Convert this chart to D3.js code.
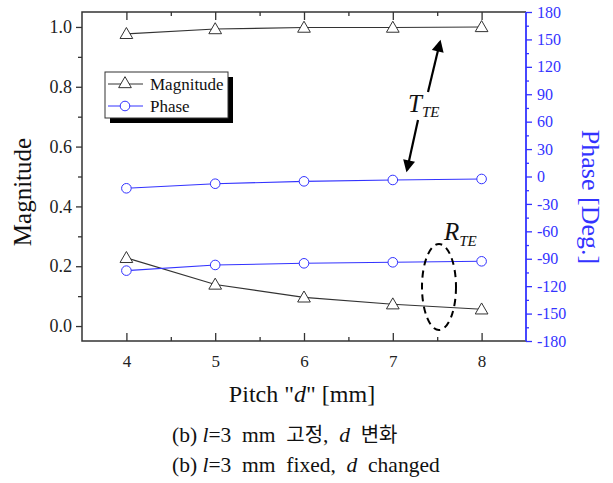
<!DOCTYPE html>
<html>
<head>
<meta charset="utf-8">
<script src="https://cdn.jsdelivr.net/npm/d3@7"></script>
<style>
  body { margin: 0; background: #fff; }
  svg { display: block; font-family: "Liberation Serif", "Times New Roman", serif; }
</style>
</head>
<body>
<svg id="chart"></svg>
<script>
// Magnitude / phase vs pitch d (l = 3 mm fixed)

const pitch = [4, 5, 6, 7, 8];
const magT = [0.977, 0.993, 0.998, 0.998, 1.0];
const magR = [0.228, 0.139, 0.096, 0.073, 0.056];
const phaseT = [-12.9, -7.9, -5.3, -3.8, -2.7];
const phaseR = [-103, -96.8, -95, -93.9, -92.8];

const magTicks = [0, 0.2, 0.4, 0.6, 0.8, 1.0];
const phaseTicks = d3.range(-180, 181, 30);

const width = 613, height = 483;
const pL = 82, pR = 526, pT = 12, pB = 341;
const blue = "#3333ff";
const serif = "Liberation Serif, Times New Roman, serif";

const svg = d3.select("#chart").attr("width", width).attr("height", height)
    .attr("font-family", serif);

const x = d3.scaleLinear().domain([3.5, 8.5]).range([pL, pR]);
const yMag = d3.scaleLinear().domain([-0.05, 1.05]).range([pB, pT]);
const yPh = d3.scaleLinear().domain([-180, 180]).range([pB, pT]);

// frame (top + left + bottom dark, right blue)
svg.append("path")
    .attr("d", `M${pR},${pT}H${pL}V${pB}H${pR}`)
    .attr("fill", "none").attr("stroke", "#333").attr("stroke-width", 1.5);

// bottom axis, ticks pointing in
svg.append("g").attr("class", "xax").attr("transform", `translate(0,${pB})`)
    .call(d3.axisBottom(x).tickValues(pitch).tickSizeInner(-8).tickSizeOuter(0).tickPadding(14).tickFormat(d3.format("d")));
svg.append("g").attr("transform", `translate(0,${pB})`)
    .call(d3.axisBottom(x).tickValues(d3.range(4.5, 8.5, 1)).tickSizeInner(-4).tickSizeOuter(0).tickFormat(""));
// top mirror ticks
svg.append("g").attr("transform", `translate(0,${pT})`)
    .call(d3.axisTop(x).tickValues(pitch).tickSizeInner(-8).tickSizeOuter(0).tickFormat(""));
svg.append("g").attr("transform", `translate(0,${pT})`)
    .call(d3.axisTop(x).tickValues(d3.range(4.5, 8.5, 1)).tickSizeInner(-4).tickSizeOuter(0).tickFormat(""));

// left axis
svg.append("g").attr("class", "lax").attr("transform", `translate(${pL},0)`)
    .call(d3.axisLeft(yMag).tickValues(magTicks).tickSize(6).tickPadding(4).tickFormat(d3.format(".1f")));
svg.append("g").attr("transform", `translate(${pL},0)`)
    .call(d3.axisLeft(yMag).tickValues([0.1, 0.3, 0.5, 0.7, 0.9]).tickSize(4).tickFormat(""));

// right axis, blue (plain hyphen for minus, like the original)
svg.append("g").attr("class", "blue").attr("transform", `translate(${pR},0)`)
    .call(d3.axisRight(yPh).tickValues(phaseTicks).tickSize(6).tickPadding(5).tickFormat(d => String(d)));
svg.append("g").attr("class", "blue").attr("transform", `translate(${pR},0)`)
    .call(d3.axisRight(yPh).tickValues(d3.range(-165, 180, 30)).tickSize(3).tickFormat(""));

svg.selectAll(".domain").remove();
svg.selectAll(".tick line").attr("stroke", "#333").attr("stroke-width", 1.3);
svg.selectAll(".tick text").attr("font-family", serif).attr("font-size", 16).attr("fill", "#222");
svg.selectAll(".lax .tick text").attr("font-size", 18);
svg.selectAll(".xax .tick text").attr("font-size", 17);
svg.selectAll(".blue .tick line").attr("stroke", blue);
svg.selectAll(".blue .tick text").attr("fill", blue);
svg.append("line").attr("x1", pR).attr("x2", pR).attr("y1", pT).attr("y2", pB)
    .attr("stroke", blue).attr("stroke-width", 1.8);

// series
const tri = d3.symbol().type(d3.symbolTriangle).size(70);

function drawSeries(vals, yScale, color, marker) {
    const pts = pitch.map((p, i) => [x(p), yScale(vals[i])]);
    svg.append("path").datum(pts)
        .attr("d", d3.line())
        .attr("fill", "none").attr("stroke", color).attr("stroke-width", 1.1);
    pts.forEach(p => {
        if (marker === "tri") {
            svg.append("path").attr("d", tri)
                .attr("transform", `translate(${p[0]},${p[1] + 1})`)
                .attr("fill", "#fff").attr("stroke", color).attr("stroke-width", 1);
        } else {
            svg.append("circle").attr("cx", p[0]).attr("cy", p[1]).attr("r", 4.8)
                .attr("fill", "#fff").attr("stroke", color).attr("stroke-width", 1);
        }
    });
}
drawSeries(magT, yMag, "#333", "tri");
drawSeries(magR, yMag, "#333", "tri");
drawSeries(phaseT, yPh, blue, "circ");
drawSeries(phaseR, yPh, blue, "circ");

// legend
const lg = svg.append("g");
lg.append("rect").attr("x", 110).attr("y", 77).attr("width", 123).attr("height", 46).attr("fill", "#000");
lg.append("rect").attr("x", 105).attr("y", 72).attr("width", 123).attr("height", 46)
    .attr("fill", "#fff").attr("stroke", "#333").attr("stroke-width", 1);
[["Magnitude", "#333", "tri", 84], ["Phase", blue, "circ", 106]].forEach(([name, c, m, yy]) => {
    lg.append("line").attr("x1", 108).attr("x2", 143).attr("y1", yy).attr("y2", yy).attr("stroke", c);
    if (m === "tri") {
        lg.append("path").attr("d", tri).attr("transform", `translate(125,${yy})`)
            .attr("fill", "#fff").attr("stroke", c);
    } else {
        lg.append("circle").attr("cx", 125).attr("cy", yy).attr("r", 4.8).attr("fill", "#fff").attr("stroke", c);
    }
    lg.append("text").attr("x", 150).attr("y", yy + 6).attr("font-size", 17).attr("fill", "#111").text(name);
});

// annotations
svg.append("defs").append("marker").attr("id", "ah")
    .attr("viewBox", "0 0 10 10").attr("refX", 8).attr("refY", 5)
    .attr("markerWidth", 6).attr("markerHeight", 5.5).attr("orient", "auto")
    .append("path").attr("d", "M0,0L10,5L0,10z").attr("fill", "#000");
svg.append("line").attr("x1", 428).attr("y1", 92).attr("x2", 440).attr("y2", 42)
    .attr("stroke", "#000").attr("stroke-width", 2.2).attr("marker-end", "url(#ah)");
svg.append("line").attr("x1", 418).attr("y1", 120).attr("x2", 407).attr("y2", 170)
    .attr("stroke", "#000").attr("stroke-width", 2.2).attr("marker-end", "url(#ah)");

const tT = svg.append("text").attr("x", 408).attr("y", 112).attr("font-size", 25).attr("font-style", "italic").attr("fill", "#111");
tT.append("tspan").text("T");
tT.append("tspan").attr("dy", 5).attr("font-size", 15).text("TE");
const tR = svg.append("text").attr("x", 444).attr("y", 240).attr("font-size", 25).attr("font-style", "italic").attr("fill", "#111");
tR.append("tspan").text("R");
tR.append("tspan").attr("dy", 6).attr("font-size", 15).text("TE");

svg.append("ellipse").attr("cx", 439).attr("cy", 287).attr("rx", 17).attr("ry", 43)
    .attr("fill", "none").attr("stroke", "#000").attr("stroke-width", 2).attr("stroke-dasharray", "7,5");

// axis titles
svg.append("text").attr("transform", "translate(31,192) rotate(-90)")
    .attr("text-anchor", "middle").attr("font-size", 25).attr("fill", "#111").text("Magnitude");
svg.append("text").attr("transform", "translate(582,197) rotate(90)")
    .attr("text-anchor", "middle").attr("font-size", 26).attr("fill", blue).text("Phase [Deg.]");

const xl = svg.append("text").attr("x", 302).attr("y", 402).attr("text-anchor", "middle")
    .attr("font-size", 24).attr("fill", "#111");
xl.append("tspan").text("Pitch \"");
xl.append("tspan").attr("font-style", "italic").text("d");
xl.append("tspan").text("\" [mm]");

// captions
const c1 = svg.append("text").attr("x", 172).attr("y", 442)
    .attr("font-size", 21.5).attr("fill", "#111").attr("xml:space", "preserve");
c1.append("tspan").text("(b) ");
c1.append("tspan").attr("font-style", "italic").text("l");
c1.append("tspan").text("=3  mm  ");
c1.append("tspan").attr("font-family", "Noto Sans CJK KR").attr("font-size", 20).text("고정");
c1.append("tspan").text(",  ");
c1.append("tspan").attr("font-style", "italic").text("d");
c1.append("tspan").text("  ");
c1.append("tspan").attr("font-family", "Noto Sans CJK KR").attr("font-size", 20).text("변화");

const c2 = svg.append("text").attr("x", 172).attr("y", 472)
    .attr("font-size", 21.5).attr("fill", "#111").attr("xml:space", "preserve");
c2.append("tspan").text("(b) ");
c2.append("tspan").attr("font-style", "italic").text("l");
c2.append("tspan").text("=3  mm  fixed,  ");
c2.append("tspan").attr("font-style", "italic").text("d");
c2.append("tspan").text("  changed");
</script>
</body>
</html>
